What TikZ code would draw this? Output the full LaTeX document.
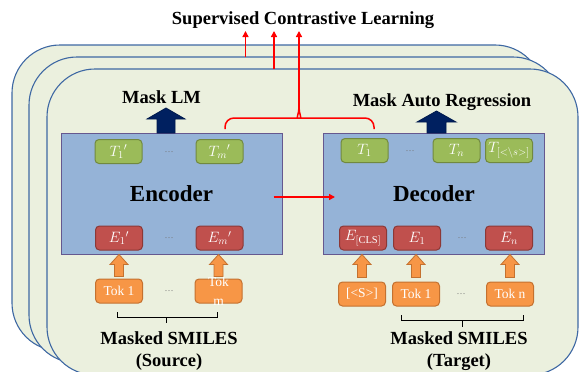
\RequirePackage{fix-cm}
\documentclass[tikz,border=0pt]{standalone}
\usepackage{fontspec}
\setmainfont{Liberation Serif}
\usetikzlibrary{arrows.meta,calc}
\definecolor{cardf}{HTML}{EBF0DE}
\definecolor{cardb}{HTML}{3E68A3}
\definecolor{boxf}{HTML}{95B3D7}
\definecolor{boxb}{HTML}{65588F}
\definecolor{gf}{HTML}{9BBB59}
\definecolor{gb}{HTML}{71893F}
\definecolor{rf}{HTML}{C0504D}
\definecolor{rb}{HTML}{8C3836}
\definecolor{of}{HTML}{F79646}
\definecolor{ob}{HTML}{C4712F}
\definecolor{navy}{HTML}{002060}
\definecolor{sred}{HTML}{FF0000}
\newcommand{\upblock}[7]{%
  \path[#1] let \p1=(#2), \p2=(#3), \p3=(#4) in
    (\x1-#5,\y2) -- (\x1-#5,\y3-#7) -- (\x1-#6,\y3-#7) -- (\x1,\y3)
    -- (\x1+#6,\y3-#7) -- (\x1+#5,\y3-#7) -- (\x1+#5,\y2) -- cycle;}
\begin{document}
\begin{tikzpicture}[x=1pt,y=-1pt,
  card/.style={draw=cardb,fill=cardf,line width=1.1pt,rounded corners=48pt},
  coder/.style={draw=boxb,fill=boxf,line width=1pt,inner sep=0pt,minimum width=221pt,minimum height=121pt,font=\fontsize{23}{26}\selectfont\bfseries},
  tok/.style={rounded corners=4pt,line width=1pt,inner sep=0pt,minimum width=47pt,minimum height=24pt,text=white},
  tbox/.style={tok,draw=gb,fill=gf,font=\fontsize{15}{17}\selectfont},
  ebox/.style={tok,draw=rb,fill=rf,font=\fontsize{15}{17}\selectfont},
  obox/.style={tok,draw=ob,fill=of,font=\fontsize{13.5}{16}\selectfont},
  dots/.style={text=black!55,font=\fontsize{9}{10}\selectfont},
  lbl/.style={font=\fontsize{18.5}{22}\selectfont\bfseries,align=center},
  oarr/.style={draw=ob,fill=of,line width=0.8pt},
  narr/.style={draw=navy!80!black,fill=navy,line width=0.8pt},
  sline/.style={draw=sred,line width=1.5pt},
  sarr/.style={sline,-{Triangle[length=6pt,width=6pt]}},
  bracket/.style={draw=black,line width=0.8pt}]
\useasboundingbox (0,0) rectangle (579,372);
% stacked cards
\draw[card] (12,45) rectangle (543,351);
\draw[card] (29,57) rectangle (561,363);
\draw[card] (47,69) rectangle (578,375);
% title
\node[lbl] (slc) at (303,20) {Supervised Contrastive Learning};
% encoder / decoder
\node[coder] (enc) at (171.5,193.5) {\raisebox{-3pt}{Encoder}};
\node[coder] (dec) at (434,193.5) {\raisebox{-2pt}{Decoder}};
% encoder inner
\node[tbox] (t1p) at (118.5,151.5) {$T_1{}'$};
\node[tbox] (tmp) at (219.5,151.5) {$T_m{}'$};
\node[dots] (td1) at (169,152) {\ldots};
\node[ebox] (e1p) at (119,238) {$E_1{}'$};
\node[ebox] (emp) at (219.5,238) {$E_m{}'$};
\node[dots] (ed1) at (169,238) {\ldots};
\node[obox] (tok1) at (119,291) {Tok 1};
\node[obox,label={[text=white,font=\fontsize{13.5}{19}\selectfont,align=center]center:Tok\\m}] (tokm) at (218.5,291) {};
\node[dots] (od1) at (169,291) {\ldots};
% decoder inner
\node[tbox] (t1) at (364.5,150.5) {$T_1$};
\node[tbox] (tn) at (456.5,150.5) {$T_n$};
\node[tbox] (ts) at (509,150.5) {$T_{[{<}\backslash s{>}]}$};
\node[dots] (td2) at (410,151) {\ldots};
\node[ebox] (ecls) at (363,238) {$E_{[\mathrm{CLS}]}$};
\node[ebox] (ee1) at (417,238) {$E_1$};
\node[ebox] (een) at (509,238) {$E_n$};
\node[dots] (ed2) at (462,238) {\ldots};
\node[obox] (toks) at (362,294) {[<S>]};
\node[obox] (dtok1) at (416,294) {Tok 1};
\node[obox] (tokn) at (510,294) {Tok n};
\node[dots] (od2) at (461,294) {\ldots};
% orange block arrows
\upblock{oarr}{tok1.north}{$(tok1.north)+(0,-2)$}{enc.south}{4.5pt}{9pt}{10pt}
\upblock{oarr}{tokm.north}{$(tokm.north)+(0,-2)$}{enc.south}{4.5pt}{9pt}{10pt}
\upblock{oarr}{toks.north}{$(toks.north)+(0,-4)$}{dec.south}{4.5pt}{9pt}{10pt}
\upblock{oarr}{dtok1.north}{$(dtok1.north)+(0,-4)$}{dec.south}{4.5pt}{9pt}{10pt}
\upblock{oarr}{tokn.north}{$(tokn.north)+(0,-4)$}{dec.south}{4.5pt}{9pt}{10pt}
% task labels and navy arrows
\node[lbl] (mlm) at (161.5,97) {Mask LM};
\node[lbl] (mar) at (442,102) {Mask Auto Regression};
\coordinate (mlmtip) at (166,108);
\coordinate (mlmbase) at (166,133);
\coordinate (martip) at (436.5,111);
\coordinate (marbase) at (436.5,133);
\upblock{narr}{mlmtip}{mlmbase}{mlmtip}{9pt}{19pt}{11pt}
\upblock{narr}{martip}{marbase}{martip}{9.5pt}{19.5pt}{11pt}
% brackets and source/target labels
\draw[bracket] (117,312) -- (117,317) -- (217,317) -- (217,312);
\draw[bracket] (166,317) -- (166,323);
\draw[bracket] (401,315) -- (401,320) -- (523,320) -- (523,315);
\draw[bracket] (462,320) -- (462,327);
\node[lbl] (src) at (169,351) {Masked SMILES\\(Source)};
\node[lbl] (tgt) at (459,351) {Masked SMILES\\(Target)};
% red connectors
\draw[sarr] ($(enc.east)+(-9,3.5)$) -- ($(dec.west)+(12,3.5)$);
\coordinate (bl) at (225,129);
\coordinate (br) at (374,129);
\coordinate (cusp) at (299,107);
\draw[sline,rounded corners=9pt] (bl) -- (225,118) -- (289,118) .. controls (296,118) and (299,114) .. (cusp);
\draw[sline,rounded corners=9pt] (br) -- (374,118) -- (309,118) .. controls (302,118) and (299,114) .. (cusp);
\coordinate (s1a) at (245.5,57);
\coordinate (s1b) at (245.5,31);
\coordinate (s2a) at (274,69);
\coordinate (s2b) at (274,31);
\coordinate (s3b) at (299,31);
\draw[sarr] (s1a) -- (s1b);
\draw[sarr] (s2a) -- (s2b);
\draw[sarr] (cusp) -- (s3b);
\end{tikzpicture}
\end{document}
